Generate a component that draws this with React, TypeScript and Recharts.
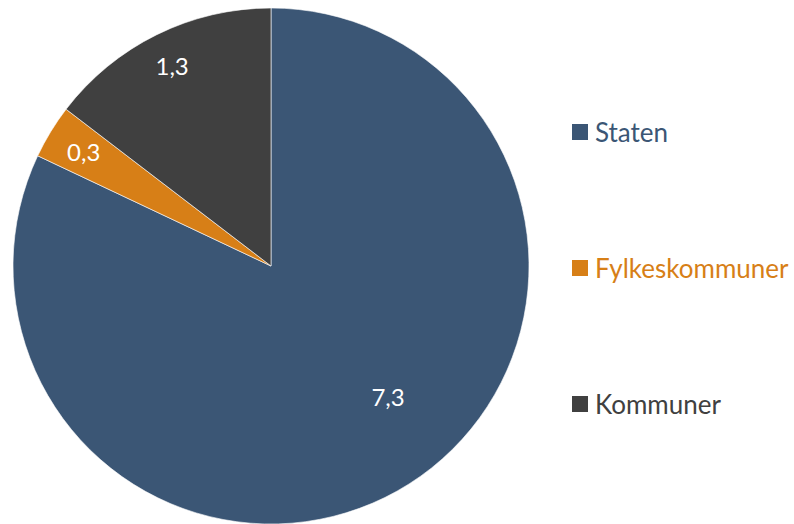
import { PieChart, Pie, Cell, Legend } from 'recharts';

const categories = ['Staten', 'Fylkeskommuner', 'Kommuner'];
const values = [7.3, 0.3, 1.3];
const labels = ['7,3', '0,3', '1,3'];

const COLORS = ['#3b5675', '#d77f17', '#404040'];
// label placement tweaks (fraction of radius, angle shift in degrees)
const LABEL_POS = [
  { r: 0.68, shift: 9.5 },
  { r: 0.85, shift: 0 },
  { r: 0.865, shift: 0 },
];

const data = categories.map((name, i) => ({ name, value: values[i] }));

const FONT = 'Lato, "Open Sans", sans-serif';
const RAD = Math.PI / 180;

function renderLabel(props: any) {
  const { cx, cy, midAngle, outerRadius, index } = props;
  const pos = LABEL_POS[index];
  const a = (midAngle + pos.shift) * RAD;
  const r = outerRadius * pos.r;
  const x = cx + r * Math.cos(-a);
  const y = cy + r * Math.sin(-a);
  return (
    <text
      x={x}
      y={y}
      fill="#fff"
      fontSize={24}
      fontFamily={FONT}
      textAnchor="middle"
      dominantBaseline="central"
    >
      {labels[index]}
    </text>
  );
}

function LegendContent() {
  return (
    <div style={{ fontFamily: FONT, fontSize: 26 }}>
      {categories.map((c, i) => (
        <div
          key={c}
          style={{
            display: 'flex',
            alignItems: 'center',
            height: 30,
            marginBottom: i < categories.length - 1 ? 106 : 0,
            color: COLORS[i],
          }}
        >
          <span
            style={{
              display: 'inline-block',
              width: 16,
              height: 16,
              background: COLORS[i],
              marginRight: 7,
            }}
          />
          <span>{c}</span>
        </div>
      ))}
    </div>
  );
}

export default function App() {
  return (
    <div style={{ position: 'absolute', left: 0, top: 0, background: '#fff' }}>
      <PieChart width={794} height={524} margin={{ top: 0, right: 0, bottom: 0, left: 0 }}>
        <Pie
          data={data}
          dataKey="value"
          nameKey="name"
          cx={271}
          cy={266}
          outerRadius={258}
          startAngle={90}
          endAngle={-270}
          stroke="#ffffff"
          strokeWidth={0.6}
          label={renderLabel}
          labelLine={false}
          isAnimationActive={false}
        >
          {data.map((d, i) => (
            <Cell key={d.name} fill={COLORS[i]} />
          ))}
        </Pie>
        <Legend
          content={<LegendContent />}
          wrapperStyle={{ left: 572, top: 117, width: 222 }}
        />
      </PieChart>
    </div>
  );
}
